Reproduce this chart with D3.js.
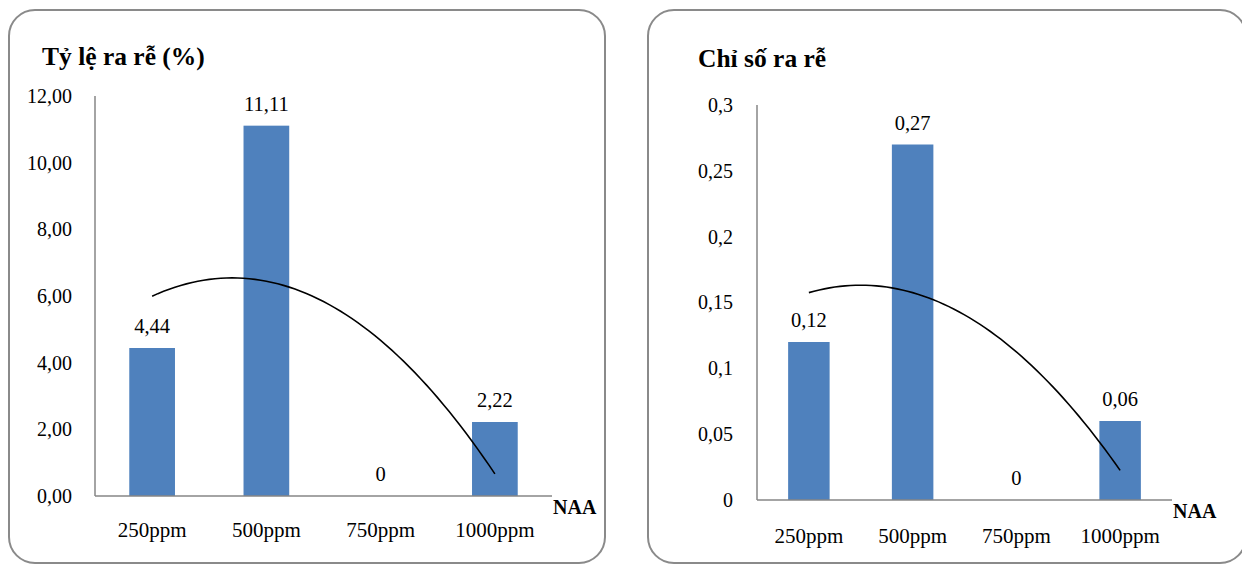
<!DOCTYPE html>
<html>
<head>
<meta charset="utf-8">
<script src="https://cdn.jsdelivr.net/npm/d3@7/dist/d3.min.js"></script>
<style>
  html, body { margin: 0; padding: 0; background: #fff; }
  svg { display: block; }
  svg text { font-family: "Liberation Serif", "Times New Roman", Tinos, "DejaVu Serif", serif; }
</style>
</head>
<body>
<svg id="chart" width="1242" height="565"></svg>
<script>
// NAA concentrations
const categories = ["250ppm", "500ppm", "750ppm", "1000ppm"];

// Rooting rate (%)
const rootingRate = [4.44, 11.11, 0, 2.22];
const rootingRateLabels = ["4,44", "11,11", "0", "2,22"];
const rootingRateTicks = [0, 2, 4, 6, 8, 10, 12];
const rootingRateTickLabels = ["0,00", "2,00", "4,00", "6,00", "8,00", "10,00", "12,00"];

// Rooting index
const rootingIndex = [0.12, 0.27, 0, 0.06];
const rootingIndexLabels = ["0,12", "0,27", "0", "0,06"];
const rootingIndexTicks = [0, 0.05, 0.1, 0.15, 0.2, 0.25, 0.3];
const rootingIndexTickLabels = ["0", "0,05", "0,1", "0,15", "0,2", "0,25", "0,3"];

const svg = d3.select("#chart");

// Least-squares quadratic fit over category positions 1..n
function quadFit(ys) {
  const n = ys.length;
  const xs = ys.map((_, i) => i + 1);
  const S = k => d3.sum(xs, x => Math.pow(x, k));
  const Sy = k => d3.sum(xs, (x, i) => Math.pow(x, k) * ys[i]);
  const A = [[n, S(1), S(2)], [S(1), S(2), S(3)], [S(2), S(3), S(4)]];
  const b = [Sy(0), Sy(1), Sy(2)];
  for (let i = 0; i < 3; i++) {
    for (let j = i + 1; j < 3; j++) {
      const f = A[j][i] / A[i][i];
      for (let k = i; k < 3; k++) A[j][k] -= f * A[i][k];
      b[j] -= f * b[i];
    }
  }
  const c = [0, 0, 0];
  for (let i = 2; i >= 0; i--) {
    let s = b[i];
    for (let k = i + 1; k < 3; k++) s -= A[i][k] * c[k];
    c[i] = s / A[i][i];
  }
  return x => c[0] + c[1] * x + c[2] * x * x;
}

function drawPanel(p) {
  const g = svg.append("g");

  // panel frame
  g.append("rect")
    .attr("x", p.frame.x).attr("y", p.frame.y)
    .attr("width", p.frame.w).attr("height", p.frame.h)
    .attr("rx", 26).attr("ry", 26)
    .attr("fill", "#fff").attr("stroke", "#8a8a8a").attr("stroke-width", 2);

  // title
  g.append("text")
    .attr("x", p.titleX).attr("y", p.titleY)
    .attr("font-size", 25.5).attr("font-weight", "bold").attr("fill", "#000")
    .text(p.title);

  const x = d3.scaleBand().domain(categories)
    .range([p.x0, p.x1]).paddingInner(0.6).paddingOuter(0.3);
  const y = d3.scaleLinear().domain([0, p.max]).range([p.yBase, p.yTop]);

  // y tick labels
  const yAxis = d3.axisLeft(y).tickValues(p.ticks)
    .tickFormat((d, i) => p.tickLabels[i]).tickSize(0).tickPadding(p.tickPad);
  const ya = g.append("g").attr("transform", `translate(${p.x0},0)`).call(yAxis);
  ya.attr("font-family", null);
  ya.select(".domain").remove();
  ya.selectAll("text").attr("font-size", 20).attr("fill", "#000");

  // bars
  g.selectAll("rect.bar").data(p.values).enter().append("rect")
    .attr("class", "bar")
    .attr("x", (d, i) => x(categories[i]))
    .attr("y", d => y(d))
    .attr("width", x.bandwidth())
    .attr("height", d => y(0) - y(d))
    .attr("fill", "#4f81bd");

  // axis lines
  g.append("line").attr("x1", p.x0).attr("x2", p.x0)
    .attr("y1", y(p.max)).attr("y2", y(0))
    .attr("stroke", "#868686").attr("stroke-width", 1.5);
  g.append("line").attr("x1", p.x0).attr("x2", p.x1)
    .attr("y1", y(0)).attr("y2", y(0))
    .attr("stroke", "#868686").attr("stroke-width", 1.5);

  // value labels
  g.selectAll("text.val").data(p.values).enter().append("text")
    .attr("class", "val")
    .attr("x", (d, i) => x(categories[i]) + x.bandwidth() / 2)
    .attr("y", d => y(d) - 15)
    .attr("text-anchor", "middle").attr("font-size", 20.5).attr("fill", "#000")
    .text((d, i) => p.valueLabels[i]);

  // category labels
  const xAxis = d3.axisBottom(x).tickSize(0).tickPadding(p.catPad);
  const xa = g.append("g").attr("transform", `translate(0,${y(0)})`).call(xAxis);
  xa.attr("font-family", null);
  xa.select(".domain").remove();
  xa.selectAll("text").attr("font-size", 21).attr("fill", "#000");

  // x axis name
  g.append("text")
    .attr("x", p.x1 + 1).attr("y", y(0) + 17.5)
    .attr("font-size", 20).attr("font-weight", "bold").attr("fill", "#000")
    .text("NAA");

  // polynomial (order 2) trendline
  const f = quadFit(p.values);
  const pos = t => x(categories[0]) + x.bandwidth() / 2 + (t - 1) * x.step();
  const pts = d3.range(1, 4.0001, 0.05).map(t => [pos(t), y(f(t))]);
  g.append("path")
    .attr("d", d3.line()(pts))
    .attr("fill", "none").attr("stroke", "#000").attr("stroke-width", 1.6);
}

drawPanel({
  frame: { x: 9, y: 10, w: 596, h: 553 },
  title: "Tỷ lệ ra rễ (%)", titleX: 42, titleY: 65,
  x0: 95, x1: 552, yTop: 96, yBase: 496, max: 12,
  ticks: rootingRateTicks, tickLabels: rootingRateTickLabels, tickPad: 23,
  values: rootingRate, valueLabels: rootingRateLabels, catPad: 26.5
});

drawPanel({
  frame: { x: 648, y: 10, w: 598, h: 553 },
  title: "Chỉ số ra rễ", titleX: 698, titleY: 67,
  x0: 757, x1: 1172, yTop: 105, yBase: 500, max: 0.3,
  ticks: rootingIndexTicks, tickLabels: rootingIndexTickLabels, tickPad: 24,
  values: rootingIndex, valueLabels: rootingIndexLabels, catPad: 28
});
</script>
</body>
</html>
